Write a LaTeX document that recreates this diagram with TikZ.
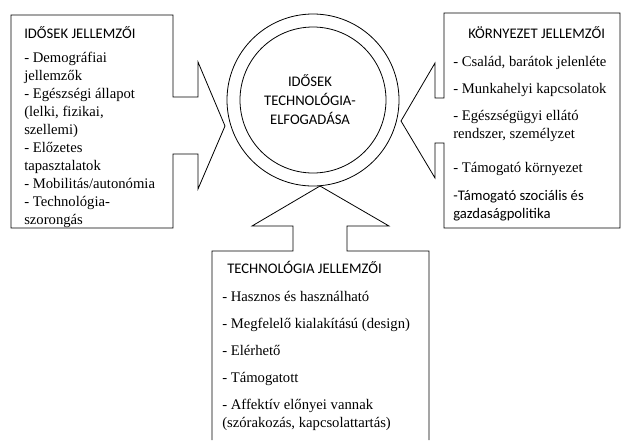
\documentclass[tikz,border=0pt]{standalone}
\usepackage{fontspec}
\setmainfont{Liberation Serif}
\newfontfamily\itemfont{Liberation Serif}
\newfontfamily\capfont{Carlito}
\usetikzlibrary{positioning}

\tikzset{
  callout/.style={draw, line width=0.6pt, line join=miter},
  ring/.style={draw, line width=0.6pt},
  item/.style={anchor=base west, inner sep=0pt, font=\itemfont\fontsize{11}{13.5}\selectfont},
  head/.style={anchor=base west, inner sep=0pt, font=\capfont\fontsize{11}{13.5}\selectfont},
  hub/.style={anchor=base, inner sep=0pt, font=\capfont\fontsize{11}{13.5}\selectfont},
}

\begin{document}
\begin{tikzpicture}[x=0.75pt, y=-0.75pt]
  \useasboundingbox (0,0) rectangle (621,440);

  % callouts pointing at the hub
  \draw[callout] (11,15) -- (173,15) -- (173,97) -- (198,97) -- (198,62) -- (225,126)
    -- (198,189) -- (198,154) -- (173,154) -- (173,228) -- (11,228) -- cycle;
  \draw[callout] (444,13) -- (620,13) -- (620,228) -- (444,228) -- (444,143) -- (435,143)
    -- (435,178) -- (401,121) -- (435,63) -- (435,98) -- (444,98) -- cycle;
  \draw[callout] (212,440) -- (212,251) -- (293,251) -- (293,226) -- (252,226) -- (320,186)
    -- (389,226) -- (347,226) -- (347,251) -- (429,251) -- (429,440);

  % the hub
  \draw[ring] (313,100) circle[radius=86];
  \draw[ring] (313,100) circle[radius=73];
  \node[hub] (hub1) at (310,86) {IDŐSEK};
  \node[hub] (hub2) at (310,105) {TECHNOLÓGIA-};
  \node[hub] (hub3) at (310,124) {ELFOGADÁSA};

  % left box
  \node[head] (idosek) at (24,38) {IDŐSEK JELLEMZŐI};
  \foreach \y/\t [count=\i] in {62/{- Demográfiai}, 80/{jellemzők}, 98/{- Egészségi állapot},
      116/{(lelki, fizikai,}, 134/{szellemi)}, 152/{- Előzetes}, 170/{tapasztalatok},
      188/{- Mobilitás/autonómia}, 206/{- Technológia-}, 224/{szorongás}}
    \node[item] (idosek\i) at (24,\y) {\t};

  % right box
  \node[head] (kornyezet) at (468,38) {KÖRNYEZET JELLEMZŐI};
  \foreach \y/\t [count=\i] in {66/{- Család, barátok jelenléte}, 93/{- Munkahelyi kapcsolatok},
      120/{- Egészségügyi ellátó}, 138/{rendszer, személyzet}, 172/{- Támogató környezet}}
    \node[item] (kornyezet\i) at (453,\y) {\t};
  \node[head] (kornyezet6) at (453,200) {-Támogató szociális és};
  \node[head] (kornyezet7) at (453,218) {gazdaságpolitika};

  % bottom box
  \node[head] (techn) at (227,273) {TECHNOLÓGIA JELLEMZŐI};
  \foreach \y/\t [count=\i] in {301/{- Hasznos és használható}, 328/{- Megfelelő kialakítású (design)},
      355/{- Elérhető}, 382/{- Támogatott}, 409/{- Affektív előnyei vannak},
      427/{(szórakozás, kapcsolattartás)}}
    \node[item] (techn\i) at (222,\y) {\t};
\end{tikzpicture}
\end{document}
